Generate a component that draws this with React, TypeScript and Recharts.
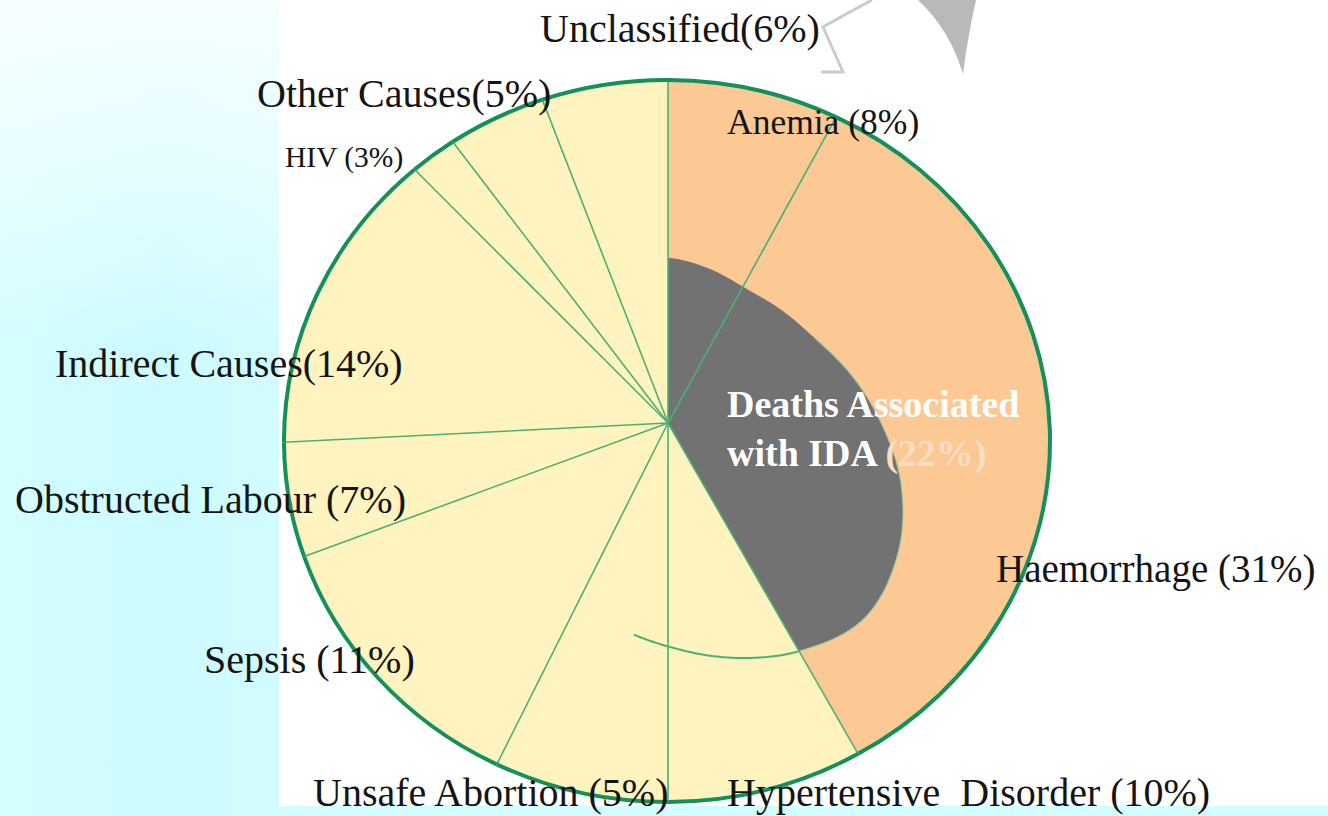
import React from "react";
import { PieChart, Pie } from "recharts";

// maternal deaths by cause, clockwise from 12 o'clock
const CAUSES = [
  "Anemia",
  "Haemorrhage",
  "Hypertensive  Disorder",
  "Unsafe Abortion",
  "Sepsis",
  "Obstructed Labour",
  "Indirect Causes",
  "HIV",
  "Other Causes",
  "Unclassified",
];
// shares as printed in the labels
const SHARES = [8, 31, 10, 5, 11, 7, 14, 3, 5, 6];
// the source drawing does not follow its printed shares; slice sizes
const DRAWN_SHARES = [8.0, 33.7, 8.3, 7.4, 12.0, 4.8, 13.3, 2.1, 4.5, 5.9];
const IDA_CAUSES = ["Anemia", "Haemorrhage"];
const IDA_TITLE = ["Deaths Associated", "with IDA"];
const IDA_SHARE = 22;

const W = 1328;
const H = 816;
const CX = 667;
const CY = 441;
const RX = 383;
const RY_RATIO = 361 / 383; // the pie is a slightly flattened ellipse
const HUB = { dx: 1, dy: -18 }; // spokes meet a bit above the ellipse centre

const YELLOW = "#FFF4BF";
const ORANGE = "#FCC894";
const GRAY = "#727272";
const OUTLINE = "#14905C";
const SPOKE = "#4CB072";
const FONT = "'Liberation Serif', 'Times New Roman', serif";

// label placement (left x, baseline y)
const LABELS: Record<string, { x: number; y: number; size: number; gap: string }> = {
  Anemia: { x: 727, y: 134, size: 35.5, gap: " " },
  Haemorrhage: { x: 996, y: 582, size: 39, gap: " " },
  "Hypertensive  Disorder": { x: 727, y: 806, size: 40, gap: " " },
  "Unsafe Abortion": { x: 313, y: 806, size: 40, gap: " " },
  Sepsis: { x: 204, y: 673, size: 40, gap: " " },
  "Obstructed Labour": { x: 15, y: 513, size: 40, gap: " " },
  "Indirect Causes": { x: 55, y: 377, size: 40, gap: "" },
  HIV: { x: 285, y: 167, size: 29.5, gap: " " },
  "Other Causes": { x: 257, y: 107, size: 40, gap: "" },
  Unclassified: { x: 540, y: 42, size: 40, gap: "" },
};
const IDA_POS = { x: 727, y1: 417, y2: 466, size: 38 };

// outline of the grey IDA wedge: radius / outerRadius at t = 0, .1 ... 1.3 of its sweep
const IDA_PROFILE = [0.431, 0.417, 0.406, 0.418, 0.443, 0.494, 0.557, 0.631, 0.692, 0.723, 0.687, 0.634, 0.583, 0.55];
const IDA_TAIL = 0.26; // thin arc carried on past the wedge

const slices = CAUSES.map((name, i) => ({
  name,
  value: DRAWN_SHARES[i],
  pct: SHARES[i],
  fill: IDA_CAUSES.includes(name) ? ORANGE : YELLOW,
}));
const idaSweep = DRAWN_SHARES.filter((_, i) => IDA_CAUSES.includes(CAUSES[i])).reduce((a, b) => a + b, 0);
const total = DRAWN_SHARES.reduce((a, b) => a + b, 0);
const idaData = [
  { name: "IDA", value: idaSweep },
  { name: "rest", value: total - idaSweep },
];

const toRad = (d: number) => (d * Math.PI) / 180;
const hubOf = (cx: number, cy: number) => [cx + HUB.dx, cy + HUB.dy];

function rim(cx: number, cy: number, r: number, angle: number) {
  const [hx, hy] = hubOf(cx, cy);
  const ry = r * RY_RATIO;
  const ux = Math.cos(toRad(angle));
  const uy = -Math.sin(toRad(angle));
  const px = (hx - cx) / r, py = (hy - cy) / ry, qx = ux / r, qy = uy / ry;
  const a = qx * qx + qy * qy;
  const b = 2 * (px * qx + py * qy);
  const c = px * px + py * py - 1;
  const t = (-b + Math.sqrt(b * b - 4 * a * c)) / (2 * a);
  return [hx + t * ux, hy + t * uy];
}

const arcTo = (r: number, start: number, end: number, p: number[]) =>
  `A ${r} ${r * RY_RATIO} 0 ${Math.abs(start - end) > 180 ? 1 : 0} 1 ${p[0]} ${p[1]}`;

function SliceFill(props: any) {
  const { cx, cy, outerRadius, startAngle, endAngle, fill } = props;
  const [hx, hy] = hubOf(cx, cy);
  const p0 = rim(cx, cy, outerRadius, startAngle);
  const p1 = rim(cx, cy, outerRadius, endAngle);
  return (
    <path
      d={`M ${hx} ${hy} L ${p0[0]} ${p0[1]} ${arcTo(outerRadius, startAngle, endAngle, p1)} Z`}
      fill={fill}
      stroke={fill}
      strokeWidth={0.6}
    />
  );
}

function SliceEdge(props: any) {
  const { cx, cy, outerRadius, startAngle, endAngle } = props;
  const [hx, hy] = hubOf(cx, cy);
  const p0 = rim(cx, cy, outerRadius, startAngle);
  const p1 = rim(cx, cy, outerRadius, endAngle);
  return (
    <g>
      <path d={`M ${hx} ${hy} L ${p0[0]} ${p0[1]}`} stroke={SPOKE} strokeWidth={1.6} fill="none" />
      <path
        d={`M ${p0[0]} ${p0[1]} ${arcTo(outerRadius, startAngle, endAngle, p1)}`}
        stroke={OUTLINE}
        strokeWidth={4}
        fill="none"
      />
    </g>
  );
}

function profileAt(t: number) {
  const f = t * 10;
  const i = Math.max(0, Math.min(IDA_PROFILE.length - 2, Math.floor(f)));
  const u = f - i;
  const p = (k: number) => IDA_PROFILE[Math.max(0, Math.min(IDA_PROFILE.length - 1, k))];
  const p0 = p(i - 1), p1 = p(i), p2 = p(i + 1), p3 = p(i + 2);
  return (
    0.5 *
    (2 * p1 +
      (-p0 + p2) * u +
      (2 * p0 - 5 * p1 + 4 * p2 - p3) * u * u +
      (-p0 + 3 * p1 - 3 * p2 + p3) * u * u * u)
  );
}

function IdaWedge(props: any) {
  if (props.name !== "IDA") return <g />;
  const { cx, cy, outerRadius, startAngle, endAngle } = props;
  const [hx, hy] = hubOf(cx, cy);
  const sweep = startAngle - endAngle;
  const pt = (t: number) => {
    const a = toRad(startAngle - t * sweep);
    const r = profileAt(t) * outerRadius;
    return `${hx + r * Math.cos(a)} ${hy - r * Math.sin(a)}`;
  };
  const body: string[] = [];
  for (let k = 0; k <= 200; k++) body.push(pt(k / 200));
  const edge: string[] = [];
  for (let k = 80; k <= 200; k++) edge.push(pt(k / 200));
  const tail: string[] = [];
  for (let k = 0; k <= 60; k++) tail.push(pt(1 + (IDA_TAIL * k) / 60));
  return (
    <g>
      <path d={`M ${hx} ${hy} L ${body.join(" L ")} Z`} fill={GRAY} />
      <path d={`M ${edge.join(" L ")}`} stroke="#9CD3A6" strokeWidth={1.3} fill="none" opacity={0.8} />
      <path d={`M ${tail.join(" L ")}`} stroke={SPOKE} strokeWidth={2} fill="none" />
    </g>
  );
}

function CauseLabel(props: any) {
  const pos = LABELS[props.name];
  if (!pos) return null;
  return (
    <text
      x={pos.x}
      y={pos.y}
      fontFamily={FONT}
      fontSize={pos.size}
      fill="#141414"
      textAnchor="start"
      style={{ whiteSpace: "pre" }}
    >
      {`${props.name}${pos.gap}(${props.payload.pct}%)`}
    </text>
  );
}

function IdaLabel(props: any) {
  if (props.name !== "IDA") return null;
  return (
    <text fontFamily={FONT} fontWeight="bold" fontSize={IDA_POS.size} fill="#FFFFFF" textAnchor="start">
      <tspan x={IDA_POS.x} y={IDA_POS.y1}>{IDA_TITLE[0]}</tspan>
      <tspan x={IDA_POS.x} y={IDA_POS.y2}>{`${IDA_TITLE[1]} `}</tspan>
      <tspan fill="#F9DEC6">{`(${IDA_SHARE}%)`}</tspan>
    </text>
  );
}

export default function App() {
  return (
    <div style={{ position: "absolute", left: 0, top: 0, width: W, height: H, background: "#fff", overflow: "hidden" }}>
      <div
        style={{
          position: "absolute", left: 0, top: 0, width: 279, height: H,
          background:
            "linear-gradient(180deg, rgba(255,255,255,0.8) 0%, rgba(255,255,255,0.45) 22%, rgba(255,255,255,0) 42%), linear-gradient(90deg, #d4fdff 0%, #ccfbff 60%, #d2fcff 100%)",
        }}
      />
      <div style={{ position: "absolute", left: 279, top: 806, width: W - 279, height: 10, background: "#d2fcff" }} />
      <div style={{ position: "absolute", left: 0, top: 0 }}>
        <PieChart width={W} height={H} margin={{ top: 0, right: 0, bottom: 0, left: 0 }}>
          <Pie
            data={slices}
            dataKey="value"
            nameKey="name"
            cx={CX}
            cy={CY}
            outerRadius={RX}
            startAngle={90}
            endAngle={-270}
            shape={SliceFill}
            isAnimationActive={false}
          />
          <Pie
            data={idaData}
            dataKey="value"
            nameKey="name"
            cx={CX}
            cy={CY}
            outerRadius={RX}
            startAngle={90}
            endAngle={-270}
            fill="none"
            shape={IdaWedge}
            label={IdaLabel}
            labelLine={false}
            isAnimationActive={false}
          />
          <Pie
            data={slices}
            dataKey="value"
            nameKey="name"
            cx={CX}
            cy={CY}
            outerRadius={RX}
            startAngle={90}
            endAngle={-270}
            fill="none"
            shape={SliceEdge}
            label={CauseLabel}
            labelLine={false}
            isAnimationActive={false}
          />
        </PieChart>
      </div>
      <svg width={W} height={H} style={{ position: "absolute", left: 0, top: 0, pointerEvents: "none" }}>
        <path d="M 918 0 Q 950 30 963 74 Q 968 35 976 0 Z" fill="#B9B9B9" />
        <path d="M 872 0 Q 846 14 823 27 L 843 72 L 821 72" stroke="#CBCBCB" strokeWidth={3} fill="none" />
      </svg>
    </div>
  );
}
